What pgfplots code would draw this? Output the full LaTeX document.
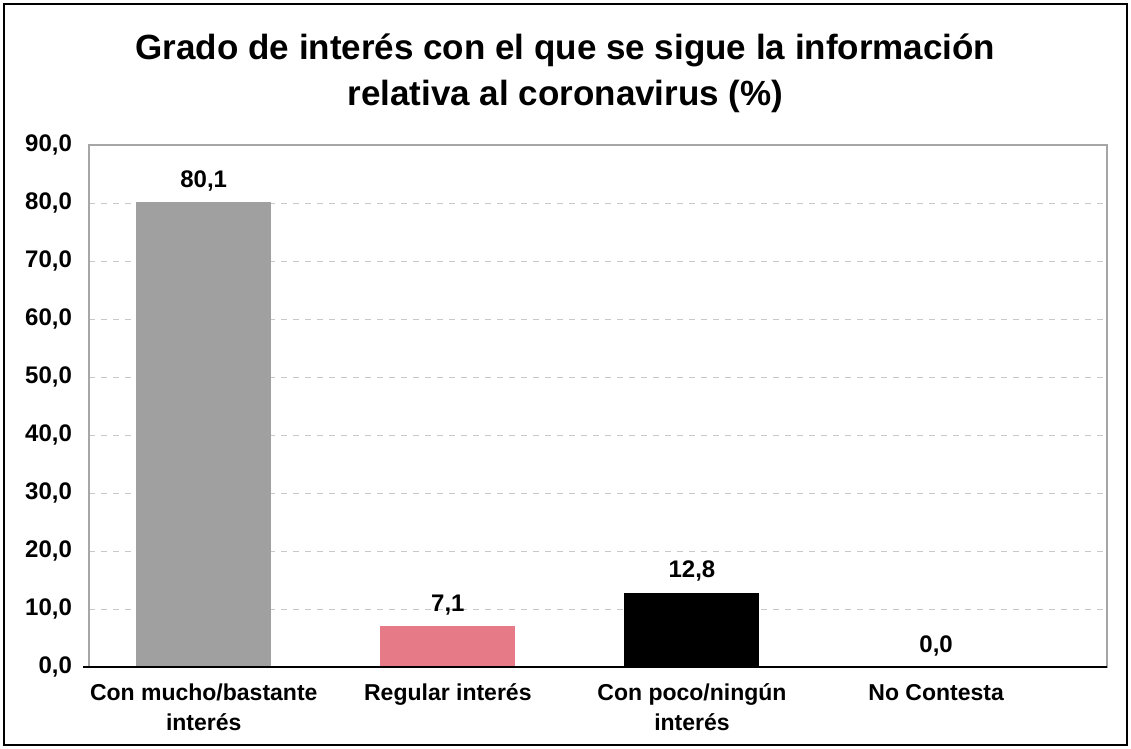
\documentclass[border=0pt]{standalone}
\usepackage{pgfplots}
\pgfplotsset{compat=1.18}
\usepackage{fontspec}
\setmainfont{Liberation Sans}
\definecolor{barGray}{HTML}{A0A0A0}
\definecolor{barPink}{HTML}{E67A87}
\definecolor{gridGray}{HTML}{C8C8C8}
\definecolor{frameGray}{HTML}{A6A6A6}

\begin{document}
\begin{tikzpicture}
\begin{axis}[
  scale only axis, width=509pt, height=261pt,
  xmin=-0.47, xmax=3.7, ymin=0, ymax=90,
  ytick={0,10,...,90},
  xtick={0,1,2,3},
  xticklabels={Con mucho/bastante\\interés, Regular interés, Con poco/ningún\\interés, No Contesta},
  xticklabel style={align=center, font=\fontsize{11.5}{15}\selectfont\bfseries, yshift=-5pt},
  yticklabel style={font=\fontsize{12}{14}\selectfont\bfseries, xshift=-5pt},
  /pgf/number format/.cd, assume math mode=true, use comma, fixed, fixed zerofill, precision=1,
  /pgfplots/.cd,
  ymajorgrids, major grid style={gridGray, dashed},
  major tick length=0pt,
  axis line style={frameGray, line width=0.8pt},
  ybar, bar width=67.5pt, bar shift=0pt,
  nodes near coords,
  every node near coord/.append style={font=\fontsize{12}{14}\selectfont\bfseries, black, yshift=2pt},
  clip=false,
]
\addplot[fill=barGray, draw=none] coordinates {(0,80.1)};
\addplot[fill=barPink, draw=none] coordinates {(1,7.1)};
\addplot[fill=black, draw=none] coordinates {(2,12.8)};
\addplot[fill=white, draw=none] coordinates {(3,0.0)};
\draw[black, line width=1pt] (rel axis cs:-0.006,0) -- (rel axis cs:1,0);
\end{axis}
\draw[black, line width=1.2pt] ([xshift=-42.5pt,yshift=-39pt]current axis.south west) rectangle ([xshift=10pt,yshift=70.5pt]current axis.north east);
\useasboundingbox ([xshift=-44.5pt,yshift=-41pt]current axis.south west) rectangle ([xshift=12pt,yshift=72.5pt]current axis.north east);
\node[font=\fontsize{17.5}{23}\selectfont\bfseries, align=center] at ([xshift=-16.25pt,yshift=36pt]current axis.north) {Grado de interés con el que se sigue la información\\relativa al coronavirus (\%)};
\end{tikzpicture}
\end{document}
